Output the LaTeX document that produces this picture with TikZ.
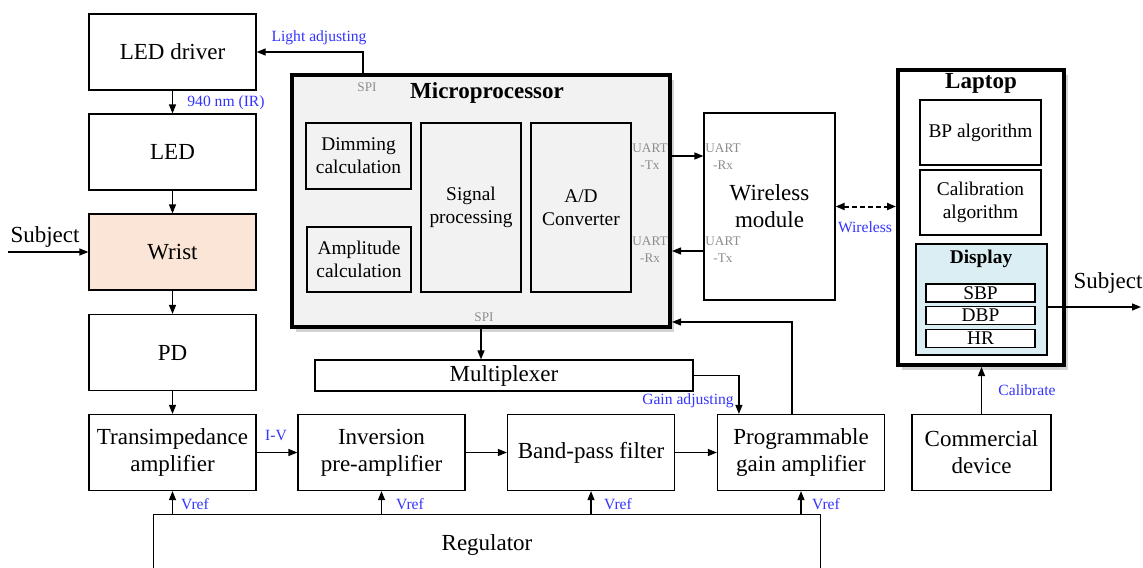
\documentclass[tikz,border=0pt]{standalone}
\usepackage{fontspec}
\setmainfont{Liberation Serif}
\usepackage[HTML]{xcolor}
\usepackage{tikz}
\usetikzlibrary{positioning, arrows.meta, shadows}
\definecolor{lblblue}{HTML}{3333FF}
\definecolor{portgray}{HTML}{8C8C8C}
\definecolor{wristfill}{HTML}{FBE5D6}
\definecolor{mcufill}{HTML}{F2F2F2}
\definecolor{dispfill}{HTML}{DAEEF3}
\newcommand{\mainsz}{\fontsize{11.5}{13.5}\selectfont}
\newcommand{\innersz}{\fontsize{9.7}{11.5}\selectfont}
\newcommand{\lblsz}{\fontsize{7.8}{9}\selectfont}
\newcommand{\portsz}{\fontsize{6.6}{8.5}\selectfont}

\begin{document}
\begin{tikzpicture}[x=0.5pt, y=-0.5pt,
  >={Triangle[length=4.5pt,width=3.5pt]},
  box/.style={draw, line width=0.6pt, inner sep=0pt, align=center, font=\mainsz},
  blk/.style={box, minimum width=83.5pt, minimum height=38pt},
  inbox/.style={box, font=\innersz},
  frame/.style={draw, line width=2pt, inner sep=0pt},
  shade/.style={drop shadow={shadow xshift=2pt, shadow yshift=-2.5pt, opacity=0.35}},
  lbl/.style={text=lblblue, font=\lblsz, inner sep=0pt},
  port/.style={text=portgray, font=\portsz, align=center, inner sep=0pt},
  arr/.style={->, line width=0.6pt}]
\useasboundingbox (0,0) rectangle (1143,567);
% left column
\node[blk] (leddrv) at (172.5,52) {LED driver};
\node[blk] (led) at (172.5,152) {LED};
\node[blk, fill=wristfill] (wrist) at (172.5,252) {Wrist};
\node[blk] (pd) at (172.5,352.5) {PD};
% analog chain
\node[blk] (tia) at (172.5,452.5) {Transimpedance\\amplifier};
\node[blk] (inv) at (381.5,452.5) {Inversion\\pre-amplifier};
\node[blk] (bpf) at (591,452.5) {Band-pass filter};
\node[blk] (pga) at (801,452.5) {Programmable\\gain amplifier};
\node[box, minimum width=69.5pt, minimum height=38pt] (comm) at (981.5,452.5) {Commercial\\device};
\node[box, minimum width=189pt, minimum height=15.5pt] (mux) at (504,375.5) {Multiplexer};
\node[minimum width=333pt, minimum height=30pt, inner sep=0pt, font=\mainsz] (reg) at (487,545) {Regulator};
% microprocessor
\node[frame, fill=mcufill, shade, minimum width=189pt, minimum height=126pt] (mcu) at (481,201) {};
\node[font=\mainsz\bfseries, inner sep=0pt] (mcutitle) at (487,93) {Microprocessor};
\node[inbox, minimum width=52.5pt, minimum height=33pt] (dim) at (358.5,156) {Dimming\\calculation};
\node[inbox, minimum width=52pt, minimum height=32.5pt] (amp) at (359,259.5) {Amplitude\\calculation};
\node[inbox, minimum width=50pt, minimum height=84.5pt] (sig) at (471,207.5) {Signal\\processing};
\node[inbox, minimum width=50pt, minimum height=84.5pt] (adc) at (581,207.5) {A/D\\Converter};
% wireless
\node[box, minimum width=65.5pt, minimum height=93.5pt] (wl) at (769.5,206.5) {Wireless\\module};
% laptop
\node[frame, fill=white, shade, minimum width=83pt, minimum height=147.5pt] (lap) at (981,217.5) {};
\node[font=\mainsz\bfseries, inner sep=0pt] (laptitle) at (981,83) {Laptop};
\node[inbox, minimum width=60.5pt, minimum height=32.5pt] (bpalg) at (980.5,132.5) {BP algorithm};
\node[inbox, minimum width=60.5pt, minimum height=32.5pt] (calalg) at (980.5,202.5) {Calibration\\algorithm};
\node[draw, line width=1.2pt, fill=dispfill, minimum width=65.5pt, minimum height=55.5pt] (disp) at (981.5,299.5) {};
\node[font=\innersz\bfseries, inner sep=0pt] (disptitle) at (981,259) {Display};
\node[inbox, fill=white, minimum width=54.5pt, minimum height=9pt] (sbp) at (980.5,293) {SBP};
\node[inbox, fill=white, minimum width=54.5pt, minimum height=9pt] (dbp) at (980.5,315.5) {DBP};
\node[inbox, fill=white, minimum width=54.5pt, minimum height=9pt] (hr) at (980.5,338.5) {HR};
% free ends
\coordinate (subjin) at (8,252);
\coordinate (subjout) at (1141,307);
\coordinate (tx) at ([yshift=22.5pt]mcu.east);
\coordinate (rx) at ([yshift=-25pt]mcu.east);
% connectors
\draw[arr] (leddrv) -- (led);
\draw[arr] (led) -- (wrist);
\draw[arr] (wrist) -- (pd);
\draw[arr] (pd) -- (tia);
\draw[arr] (subjin) -- (wrist);
\draw[arr] (tia) -- (inv);
\draw[arr] (inv) -- (bpf);
\draw[arr] (bpf) -- (pga);
\draw[arr] ([xshift=-59pt]mcu.north) |- (leddrv.east);
\draw[arr] (mcu.south) -- (mcu.south |- mux.north);
\draw[arr] (mux.east) -| ([xshift=11pt]pga.north west);
\draw[arr] ([xshift=-4.5pt]pga.north) |- ([yshift=3.5pt]mcu.south east);
\draw[arr] (tx) -- (tx -| wl.west);
\draw[arr] (rx -| wl.west) -- (rx);
\draw[<->, line width=1pt, dash pattern=on 2.5pt off 1.5pt] (wl.east) -- (wl.east -| lap.west);
\draw[arr] ([yshift=-3.75pt]disp.east) -- (subjout);
\draw[arr] (comm) -- (comm |- lap.south);
\draw[line width=0.6pt] (reg.south west) |- (reg.north east) -- (reg.south east);
\foreach \blk in {tia, inv, bpf, pga}
  \draw[arr] (reg.north -| \blk) -- (\blk.south);
% labels
\node[font=\mainsz, inner sep=0pt] (subjinlbl) at (45,237) {Subject};
\node[font=\mainsz, inner sep=0pt] (subjoutlbl) at (1108,283) {Subject};
\node[lbl] (lightlbl) at (319,38) {Light adjusting};
\node[lbl] (irlbl) at (226,103) {940 nm (IR)};
\node[lbl] (ivlbl) at (276,436) {I-V};
\node[lbl] (gainlbl) at (688,401) {Gain adjusting};
\node[lbl] (wirelbl) at (865,227) {Wireless};
\node[lbl] (callbl) at (1027,390) {Calibrate};
\foreach \x/\n in {195/1, 410/2, 618/3, 826/4}
  \node[lbl] (vref\n) at (\x,504) {Vref};
\node[port] (spitop) at (367,87) {SPI};
\node[port] (spibot) at (484,317) {SPI};
\node[port] (mcutx) at (650,157) {UART\\-Tx};
\node[port] (mcurx) at (650,250) {UART\\-Rx};
\node[port] (wlrx) at (723,157) {UART\\-Rx};
\node[port] (wltx) at (723,250) {UART\\-Tx};
\end{tikzpicture}
\end{document}
